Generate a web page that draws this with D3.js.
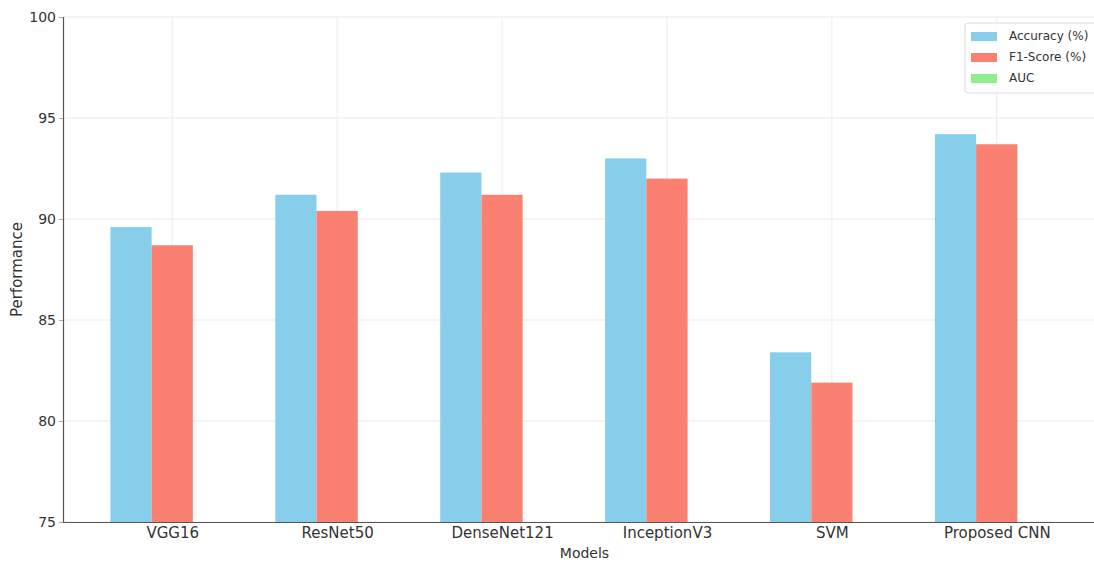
<!DOCTYPE html>
<html>
<head>
<meta charset="utf-8">
<script src="https://cdn.jsdelivr.net/npm/d3@7"></script>
<style>
  html, body { margin: 0; padding: 0; background: #fff; }
  svg { display: block; font-family: "DejaVu Sans", sans-serif; }
</style>
</head>
<body>
<svg id="chart" width="1094" height="562"></svg>
<script>
// Model names on the x axis
const models = ["VGG16", "ResNet50", "DenseNet121", "InceptionV3", "SVM", "Proposed CNN"];
// Metric values per model
const accuracy = [89.6, 91.2, 92.3, 93.0, 83.4, 94.2];
const f1Score  = [88.7, 90.4, 91.2, 92.0, 81.9, 93.7];
const auc      = [0.90, 0.91, 0.92, 0.93, 0.84, 0.95];
const seriesNames = ["Accuracy (%)", "F1-Score (%)", "AUC"];
const yTicks = [75, 80, 85, 90, 95, 100];

const colors = ["#87CEEB", "#FA8072", "#90EE90"];
const seriesValues = [accuracy, f1Score, auc];
const barW = 0.25;
const offsets = [-barW, 0, barW];

const svg = d3.select("#chart");
const plotTop = 17, plotBottom = 522, plotLeft = 63, plotRight = 1106;

const x = d3.scaleLinear().domain([-0.6625, models.length - 1 + 0.6625]).range([plotLeft, plotRight]);
const y = d3.scaleLinear().domain([75, 100]).range([plotBottom, plotTop]).clamp(true);

// grid
const grid = svg.append("g");
grid.selectAll("line.h").data(yTicks).join("line")
  .attr("x1", plotLeft).attr("x2", plotRight)
  .attr("y1", d => y(d)).attr("y2", d => y(d))
  .attr("stroke", "#ebebeb").attr("stroke-width", 1);
grid.selectAll("line.v").data(models).join("line")
  .attr("x1", (d, i) => x(i)).attr("x2", (d, i) => x(i))
  .attr("y1", plotTop).attr("y2", plotBottom)
  .attr("stroke", "#ebebeb").attr("stroke-width", 1);

// bars
seriesValues.forEach((vals, s) => {
  svg.append("g").selectAll("rect").data(vals).join("rect")
    .attr("x", (d, i) => x(i + offsets[s] - barW / 2))
    .attr("width", (d, i) => x(i + offsets[s] + barW / 2) - x(i + offsets[s] - barW / 2))
    .attr("y", d => y(d))
    .attr("height", d => plotBottom - y(d))
    .attr("fill", colors[s]);
});

// axes
const yAxis = d3.axisLeft(y).tickValues(yTicks).tickSize(4).tickPadding(3);
const gy = svg.append("g").attr("transform", `translate(${plotLeft},0)`).call(yAxis);
gy.select(".domain").attr("stroke", "#555").attr("stroke-width", 1.2);
gy.selectAll(".tick line").attr("stroke", "#aaa");
gy.selectAll(".tick text").attr("font-size", 14).attr("fill", "#333")
  .attr("font-family", "DejaVu Sans, sans-serif");

const xAxis = d3.axisBottom(x).tickValues(d3.range(models.length))
  .tickFormat(i => models[i]).tickSize(0).tickPadding(5);
const gx = svg.append("g").attr("transform", `translate(0,${plotBottom})`).call(xAxis);
gx.select(".domain").attr("stroke", "#555").attr("stroke-width", 1.2);
gx.selectAll(".tick text").attr("font-size", 15).attr("fill", "#333")
  .attr("font-family", "DejaVu Sans, sans-serif");

// axis titles
svg.append("text").attr("x", (plotLeft + plotRight) / 2).attr("y", 558)
  .attr("text-anchor", "middle").attr("font-size", 14).attr("fill", "#333")
  .text("Models");
svg.append("text").attr("transform", `translate(22,${(plotTop + plotBottom) / 2}) rotate(-90)`)
  .attr("text-anchor", "middle").attr("font-size", 15).attr("fill", "#333")
  .text("Performance");

// legend
const lg = svg.append("g").attr("transform", "translate(965,23)");
lg.append("rect").attr("x", 0).attr("y", 0).attr("width", 140).attr("height", 70)
  .attr("rx", 3).attr("fill", "#fff").attr("fill-opacity", 0.8)
  .attr("stroke", "#ddd");
seriesNames.forEach((name, s) => {
  const row = lg.append("g").attr("transform", `translate(6,${13 + s * 21})`);
  row.append("rect").attr("x", 0).attr("y", -4).attr("width", 26).attr("height", 9)
    .attr("fill", colors[s]);
  row.append("text").attr("x", 38).attr("y", 0).attr("dy", "0.35em")
    .attr("font-size", 12).attr("fill", "#333").text(name);
});
</script>
</body>
</html>
